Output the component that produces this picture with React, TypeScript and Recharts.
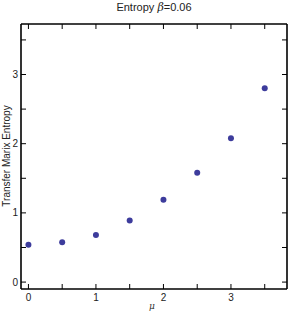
import React from 'react';
import { ScatterChart, Scatter, XAxis, YAxis } from 'recharts';

const muValues = [0, 0.5, 1, 1.5, 2, 2.5, 3, 3.5];
const entropyValues = [0.54, 0.575, 0.68, 0.89, 1.19, 1.58, 2.08, 2.8];
const xTicks = [0, 0.5, 1, 1.5, 2, 2.5, 3, 3.5];
const yTicks = [0, 0.5, 1, 1.5, 2, 2.5, 3, 3.5];

const data = muValues.map((m, i) => ({ mu: m, s: entropyValues[i] }));

const FONT = '"Liberation Sans", Arial, Helvetica, sans-serif';
const TL = 5;

const BottomTick = (props: any) => {
  const { x, y, payload } = props;
  const v = payload.value;
  const major = Number.isInteger(v);
  return (
    <g>
      <line x1={x} x2={x} y1={y} y2={y - TL} stroke="#000" strokeWidth={1} />
      {major && (
        <text x={x} y={y + 12} textAnchor="middle" fontSize={10} fontFamily={FONT} fill="#222">
          {v}
        </text>
      )}
    </g>
  );
};
const TopTick = (props: any) => {
  const { x, y } = props;
  return <line x1={x} x2={x} y1={y} y2={y + TL} stroke="#000" strokeWidth={1} />;
};
const LeftTick = (props: any) => {
  const { x, y, payload } = props;
  const v = payload.value;
  const major = Number.isInteger(v);
  return (
    <g>
      <line x1={x} x2={x + TL} y1={y} y2={y} stroke="#000" strokeWidth={1} />
      {major && (
        <text x={x - 3} y={y + 3.5} textAnchor="end" fontSize={10} fontFamily={FONT} fill="#222">
          {v}
        </text>
      )}
    </g>
  );
};
const RightTick = (props: any) => {
  const { x, y } = props;
  return <line x1={x} x2={x - TL} y1={y} y2={y} stroke="#000" strokeWidth={1} />;
};

export default function App() {
  return (
    <div style={{ position: 'absolute', left: 0, top: 0, width: 291, height: 316, background: '#fff' }}>
      <ScatterChart width={291} height={316} margin={{ top: 23, right: 3, bottom: 26, left: 20 }}>
        <XAxis
          xAxisId="b"
          dataKey="mu"
          type="number"
          domain={[-0.11, 3.83]}
          ticks={xTicks}
          allowDataOverflow
          orientation="bottom"
          height={1}
          tickSize={0}
          tickMargin={0}
          tickLine={false}
          tick={<BottomTick />}
          axisLine={{ stroke: '#000', strokeWidth: 1.6 }}
          interval={0}
        />
        <XAxis
          xAxisId="t"
          dataKey="mu"
          type="number"
          domain={[-0.11, 3.83]}
          ticks={xTicks}
          allowDataOverflow
          orientation="top"
          height={1}
          tickSize={0}
          tickMargin={0}
          tickLine={false}
          tick={<TopTick />}
          axisLine={{ stroke: '#000', strokeWidth: 1.6 }}
          interval={0}
        />
        <YAxis
          yAxisId="l"
          dataKey="s"
          type="number"
          domain={[-0.1, 3.73]}
          ticks={yTicks}
          allowDataOverflow
          orientation="left"
          width={1}
          tickSize={0}
          tickMargin={0}
          tickLine={false}
          tick={<LeftTick />}
          axisLine={{ stroke: '#000', strokeWidth: 1.6 }}
          interval={0}
        />
        <YAxis
          yAxisId="r"
          dataKey="s"
          type="number"
          domain={[-0.1, 3.73]}
          ticks={yTicks}
          allowDataOverflow
          orientation="right"
          width={1}
          tickSize={0}
          tickMargin={0}
          tickLine={false}
          tick={<RightTick />}
          axisLine={{ stroke: '#000', strokeWidth: 1.6 }}
          interval={0}
        />
        <Scatter
          data={data}
          xAxisId="b"
          yAxisId="l"
          fill="#3d3c9c"
          isAnimationActive={false}
          shape={(p: any) => <circle cx={p.cx} cy={p.cy} r={3} fill="#3d3c9c" />}
        />
      </ScatterChart>
      <div
        style={{
          position: 'absolute',
          left: 0,
          width: 308,
          top: 0,
          textAlign: 'center',
          fontFamily: FONT,
          fontSize: 11,
          lineHeight: '15px',
          color: '#222',
        }}
      >
        Entropy <i style={{ fontFamily: '"DejaVu Serif", serif' }}>β</i>=0.06
      </div>
      <div
        style={{
          position: 'absolute',
          left: 6,
          top: 156,
          transform: 'translate(-50%, -50%) rotate(-90deg)',
          whiteSpace: 'nowrap',
          fontFamily: FONT,
          fontSize: 10,
          color: '#222',
        }}
      >
        Transfer Marix Entropy
      </div>
      <div
        style={{
          position: 'absolute',
          left: 152,
          top: 306,
          transform: 'translate(-50%, -50%)',
          fontFamily: '"DejaVu Serif", serif',
          fontStyle: 'italic',
          fontSize: 9,
          color: '#333',
        }}
      >
        μ
      </div>
    </div>
  );
}
